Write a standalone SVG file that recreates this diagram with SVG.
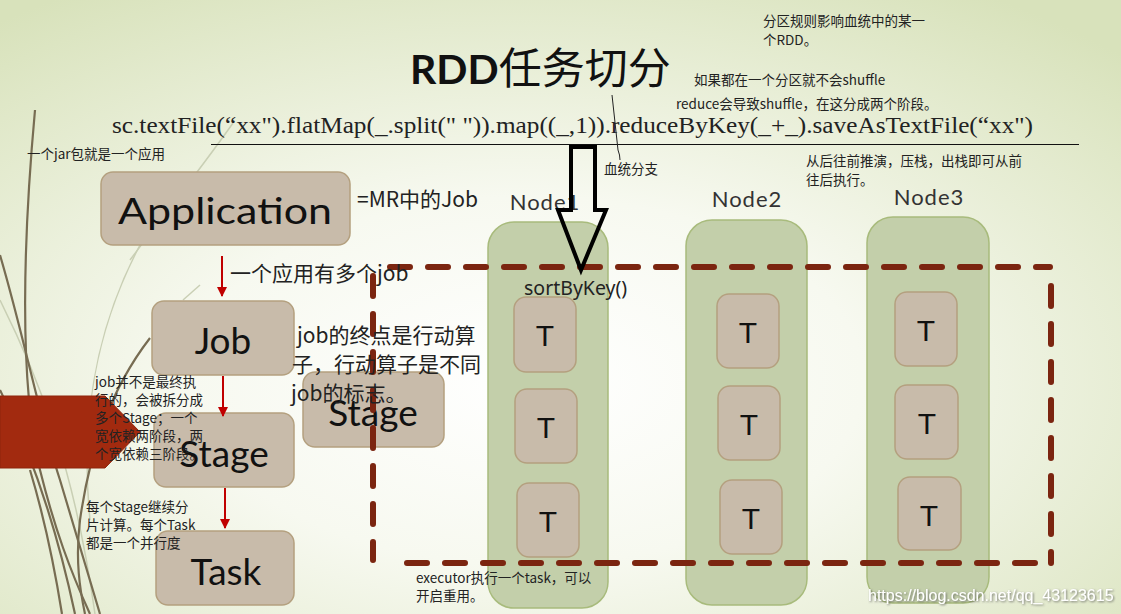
<svg xmlns="http://www.w3.org/2000/svg" width="1121" height="614" viewBox="0 0 1121 614">
<defs>
<radialGradient id="bg" cx="0.47" cy="0.62" r="0.75">
<stop offset="0" stop-color="#ffffff"/>
<stop offset="0.4" stop-color="#f7f9f0"/>
<stop offset="1" stop-color="#d8e2bb"/>
</radialGradient>
<marker id="ra" viewBox="0 0 10 10" refX="9" refY="5" markerWidth="5" markerHeight="5" orient="auto">
<path d="M0,0 L10,5 L0,10 z" fill="#c00000"/>
</marker>
<filter id="sh" x="-5%" y="-20%" width="110%" height="140%">
<feDropShadow dx="1" dy="1" stdDeviation="0.8" flood-color="#555" flood-opacity="0.8"/>
</filter>
</defs>
<style>
.box{fill:#c8bbaa;stroke:#b4a07f;stroke-width:1.5}
.node{fill:#c3cfaa;stroke:#a8bb7c;stroke-width:1.5}
.big{font-family:Lato,"DejaVu Sans",sans-serif;fill:#111;text-anchor:middle}
.t{font-family:"Liberation Sans","Noto Sans CJK SC",sans-serif;font-size:30px;fill:#111;text-anchor:middle}
.cn{font-family:"Noto Sans CJK SC","Liberation Sans",sans-serif;font-size:13.5px;fill:#222}
.mid{font-family:"Noto Sans CJK SC","Liberation Sans",sans-serif;font-size:21px;fill:#222}
.lbl{font-family:Lato,"DejaVu Sans",sans-serif;font-size:22px;fill:#333;text-anchor:middle;letter-spacing:1px}
.deco{fill:none;stroke:#776c52;stroke-width:2.2}
.decol{fill:none;stroke:#c9cfb4;stroke-width:1.5}
.dash{fill:none;stroke:#7b2510;stroke-width:6;stroke-dasharray:20 18;stroke-linecap:round}
.rarrow{stroke:#c00000;stroke-width:2;marker-end:url(#ra)}
</style>
<rect width="1121" height="614" fill="url(#bg)"/>

<g id="decoration">
<path class="decol" d="M233,123 C200,170 160,220 130,260"/>
<path class="decol" d="M183,300 L200,285"/>
<path class="decol" d="M0,300 C40,380 75,470 95,614"/>
<path class="decol" d="M140,245 C95,330 80,420 90,520"/>
<path class="deco" d="M35,110 C24,230 18,380 40,470 C55,530 70,570 90,614" stroke-width="1.5"/>
<path class="deco" d="M0,255 C25,340 40,420 60,480 C75,530 90,580 100,614"/>
<path class="deco" d="M0,390 C30,450 55,520 75,614"/>
<path class="deco" d="M150,338 C110,390 90,450 80,520 C75,560 80,590 85,614" stroke-width="1.6"/>
<path class="deco" d="M30,470 C45,520 55,570 62,614" stroke-width="1.4"/>
</g>

<g id="title">
<text x="410" y="84" font-family="Lato,'DejaVu Sans',sans-serif" font-weight="bold" font-size="41" fill="#111">RDD<tspan font-family="'Noto Sans CJK SC',sans-serif" font-weight="normal" font-size="43">任务切分</tspan></text>
</g>

<g id="code">
<text x="112" y="133" font-family="'Liberation Serif',serif" font-size="23" fill="#222" textLength="921" lengthAdjust="spacingAndGlyphs">sc.textFile(“xx").flatMap(_.split(" ")).map((_,1)).reduceByKey(_+_).saveAsTextFile(“xx")</text>
<line x1="211" y1="144.5" x2="1079" y2="144.5" stroke="#111" stroke-width="1.2"/>
</g>

<g id="pentagon">
<path d="M0,396 L105,396 L140,432 L105,468 L0,468 Z" fill="#a22a0f" stroke="#8e240c" stroke-width="1"/>
</g>

<g id="nodes-containers">
<g id="node1"><rect class="node" x="488" y="222" width="120" height="386" rx="26"/><text class="lbl" x="545" y="210">Node1</text></g>
<g id="node2"><rect class="node" x="686" y="220" width="121" height="385" rx="26"/><text class="lbl" x="747" y="207">Node2</text></g>
<g id="node3"><rect class="node" x="867" y="217" width="122" height="386" rx="26"/><text class="lbl" x="929" y="205">Node3</text></g>
</g>

<g id="stage2"><rect class="box" x="303" y="372" width="141" height="75" rx="12"/><text class="big" x="373" y="426" font-size="37">Stage</text></g>

<g id="application"><rect class="box" x="101" y="172" width="249" height="73" rx="12"/><text class="big" x="225" y="224" font-size="37" textLength="214" lengthAdjust="spacingAndGlyphs">Application</text></g>
<g id="job"><rect class="box" x="152" y="301" width="142" height="74" rx="12"/><text class="big" x="223" y="354" font-size="37">Job</text></g>
<g id="stage"><rect class="box" x="154" y="413" width="140" height="74" rx="12"/><text class="big" x="224" y="467" font-size="37">Stage</text></g>
<g id="task"><rect class="box" x="156" y="531" width="138" height="74" rx="12"/><text class="big" x="226" y="585" font-size="37">Task</text></g>

<g id="tasks">
<g id="t11"><rect class="box" x="514" y="297" width="62" height="75" rx="12"/><text class="t" x="545" y="346">T</text></g>
<g id="t12"><rect class="box" x="515" y="389" width="62" height="74" rx="12"/><text class="t" x="546" y="438">T</text></g>
<g id="t13"><rect class="box" x="517" y="483" width="62" height="74" rx="12"/><text class="t" x="548" y="532">T</text></g>
<g id="t21"><rect class="box" x="717" y="294" width="62" height="74" rx="12"/><text class="t" x="748" y="343">T</text></g>
<g id="t22"><rect class="box" x="718" y="386" width="62" height="74" rx="12"/><text class="t" x="749" y="435">T</text></g>
<g id="t23"><rect class="box" x="720" y="480" width="62" height="74" rx="12"/><text class="t" x="751" y="529">T</text></g>
<g id="t31"><rect class="box" x="895" y="292" width="62" height="74" rx="12"/><text class="t" x="926" y="341">T</text></g>
<g id="t32"><rect class="box" x="895" y="385" width="63" height="74" rx="12"/><text class="t" x="927" y="434">T</text></g>
<g id="t33"><rect class="box" x="898" y="477" width="63" height="73" rx="12"/><text class="t" x="929" y="526">T</text></g>
</g>

<g id="connectors">
<line class="rarrow" x1="222" y1="256" x2="222" y2="296"/>
<line class="rarrow" x1="223" y1="376" x2="223" y2="416"/>
<line class="rarrow" x1="225" y1="488" x2="225" y2="528"/>
<path class="dash" d="M390,267 L1050,267"/>
<path class="dash" d="M1051,286 L1051,563"/>
<path class="dash" d="M373,276 L373,560"/>
<path class="dash" d="M407,563 L1035,563"/>
<path d="M571,147 L595,147 L595,210 L606,210 L581,270 L558,210 L571,210 Z" fill="none" stroke="#000" stroke-width="4" stroke-linejoin="miter"/>
</g>

<g id="annotations">
<path d="M612,95 L618,150 Q620,155 620,160" fill="none" stroke="#222" stroke-width="1"/>
<text class="cn" x="604" y="174">血统分支</text>
<text class="cn" x="763" y="26">分区规则影响血统中的某一</text>
<text class="cn" x="763" y="45">个RDD。</text>
<text class="cn" x="694" y="85">如果都在一个分区就不会shuffle</text>
<text class="cn" x="676" y="109">reduce会导致shuffle，在这分成两个阶段。</text>
<text class="cn" x="806" y="166">从后往前推演，压栈，出栈即可从前</text>
<text class="cn" x="806" y="185">往后执行。</text>
<text class="cn" x="27" y="159">一个jar包就是一个应用</text>
<text class="cn" x="95" y="387">job并不是最终执</text>
<text class="cn" x="95" y="405">行的，会被拆分成</text>
<text class="cn" x="95" y="423">多个Stage；一个</text>
<text class="cn" x="95" y="441">宽依赖两阶段，两</text>
<text class="cn" x="95" y="459">个宽依赖三阶段。</text>
<text class="cn" x="86" y="512">每个Stage继续分</text>
<text class="cn" x="86" y="530">片计算。每个Task</text>
<text class="cn" x="86" y="548">都是一个并行度</text>
<text class="cn" x="416" y="583">executor执行一个task，可以</text>
<text class="cn" x="416" y="601">开启重用。</text>
<text class="mid" x="357" y="207">=MR中的Job</text>
<text class="mid" x="230" y="281">一个应用有多个job</text>
<text class="mid" x="297" y="343" font-size="22">job的终点是行动算</text>
<text class="mid" x="292" y="372" font-size="22">子，行动算子是不同</text>
<text class="mid" x="291" y="401" font-size="22">job的标志。</text>
<text x="524" y="295" font-family="'Noto Sans','Liberation Sans',sans-serif" font-size="19.5" fill="#222">sortByKey()</text>
</g>

<text x="868" y="601" font-family="'Liberation Sans',sans-serif" font-size="16" fill="#ffffff" filter="url(#sh)">https://blog.csdn.net/qq_43123615</text>
</svg>
